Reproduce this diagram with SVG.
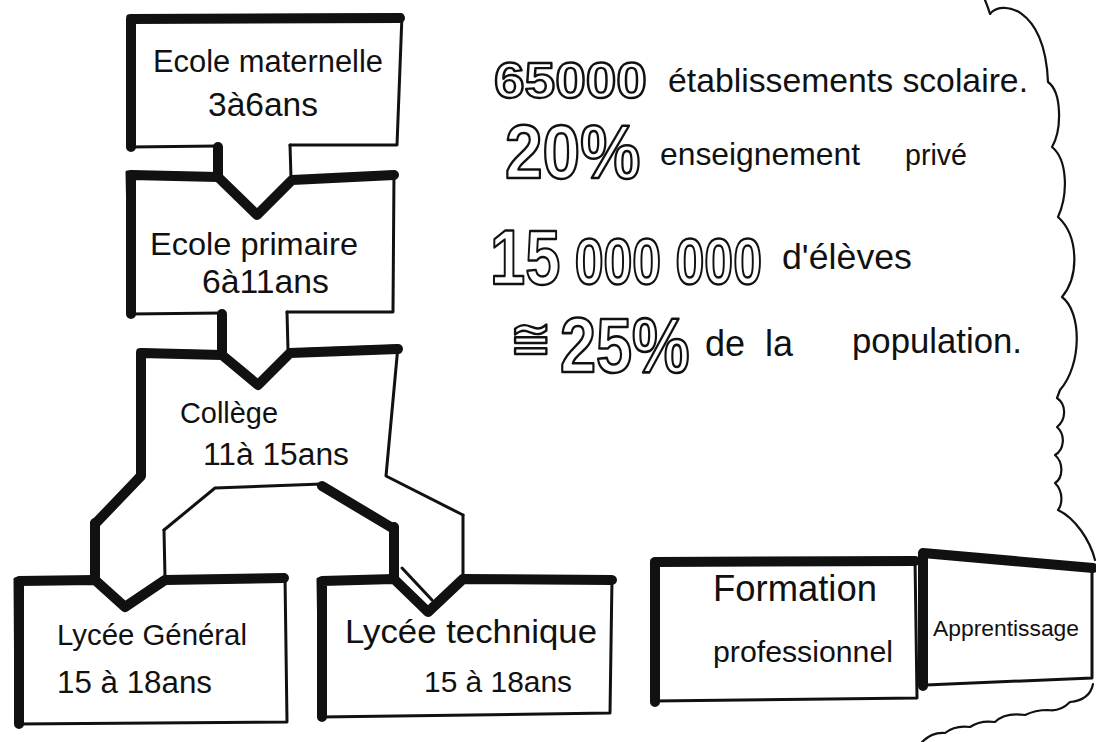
<svg xmlns="http://www.w3.org/2000/svg" width="1096" height="742" viewBox="0 0 1096 742">
<style>
.thin{fill:none;stroke:#111;stroke-width:3;stroke-linejoin:round;stroke-linecap:round}
.thick{fill:none;stroke:#111;stroke-width:10;stroke-linejoin:round;stroke-linecap:round}
.cloud{fill:none;stroke:#111;stroke-width:2.2;stroke-linejoin:round;stroke-linecap:round}
.hand{font-family:"Liberation Sans","DejaVu Sans",sans-serif;fill:#111}
.big{font-family:"Liberation Sans","DejaVu Sans",sans-serif;font-weight:bold;fill:#fff;stroke:#111;stroke-width:2.4;stroke-linejoin:round;vector-effect:non-scaling-stroke}
</style>
<rect width="1096" height="742" fill="#fff"/>

<g id="cloud">
<path class="cloud" d="M985,0 Q988,7 990,14 C1000,0 1045,5 1048,82 C1062,92 1062,130 1052,147 C1068,160 1068,195 1058,217 C1078,235 1080,275 1062,297 C1082,312 1082,365 1060,390 L1057,398 C1067,405 1066,420 1057,427 C1066,435 1064,450 1055,455 C1064,463 1063,478 1055,483 C1064,492 1062,505 1058,510 C1075,518 1090,540 1095,560"/>
<path class="cloud" d="M1093,684 Q1090,700 1070,702 Q1060,712 1048,710 Q1035,710 1025,715 Q1005,712 995,722 Q980,720 970,727 Q955,725 945,733 Q932,732 922,742"/>
</g>

<g id="connectors">
<path class="thick" d="M218,147 L218,176"/>
<path class="thin" d="M290,145 L291,178"/>
<path class="thick" d="M222,314 L222,352"/>
<path class="thin" d="M287,312 L288,350"/>
<path class="thick" d="M95,523 L95,579"/>
<path class="thin" d="M164,530 L165,578"/>
<path class="thick" d="M394,527 L394,578"/>
<path class="thin" d="M463,515 L463,577"/>
<path class="thin" d="M402,568 L432,600"/>
</g>

<g id="ecole-maternelle">
<path class="thin" d="M218,146 L130,147 L128,16 L402,15 L397,145 L290,145"/>
<path class="thick" d="M131,147 L131,19 L400,18"/>
<text class="hand" x="153" y="72" font-size="31" textLength="230" lengthAdjust="spacingAndGlyphs">Ecole maternelle</text>
<text class="hand" x="208" y="116" font-size="33" textLength="110" lengthAdjust="spacingAndGlyphs">3à6ans</text>
</g>

<g id="ecole-primaire">
<path class="thin" d="M222,313 L130,314 L127,172 L218,175 L257,216 L292,178 L394,172 L393,312 L287,312"/>
<path class="thick" d="M131,314 L131,175 L218,177 L257,215 L292,180 L394,175"/>
<text class="hand" x="150" y="255" font-size="32" textLength="208" lengthAdjust="spacingAndGlyphs">Ecole primaire</text>
<text class="hand" x="202" y="293" font-size="33" textLength="127" lengthAdjust="spacingAndGlyphs">6à11ans</text>
</g>

<g id="college">
<path class="thin" d="M95,523 L138,474 L138,350 L222,352 L258,383 L290,350 L398,346 L386,476 L463,515"/>
<path class="thin" d="M164,530 L215,488 L322,484 L394,527"/>
<path class="thick" d="M95,524 L141,476 L141,353 L222,355 L258,385 L290,353 L398,349"/>
<path class="thick" d="M322,486 L394,529"/>
<text class="hand" x="180" y="423" font-size="29" textLength="98" lengthAdjust="spacingAndGlyphs">Collège</text>
<text class="hand" x="203" y="465" font-size="31" textLength="146" lengthAdjust="spacingAndGlyphs">11à 15ans</text>
</g>

<g id="lycee-general">
<path class="thin" d="M165,578 L125,605 L95,578 L15,579 L16,724 L287,722 L285,576 Z"/>
<path class="thick" d="M19,724 L19,581 L95,580 L125,607 L165,580 L284,578"/>
<text class="hand" x="57" y="645" font-size="29" textLength="190" lengthAdjust="spacingAndGlyphs">Lycée Général</text>
<text class="hand" x="57" y="693" font-size="31" textLength="155" lengthAdjust="spacingAndGlyphs">15 à 18ans</text>
</g>

<g id="lycee-technique">
<path class="thin" d="M463,577 L428,610 L394,577 L318,579 L320,717 L610,713 L612,578 Z"/>
<path class="thick" d="M322,717 L322,581 L394,579 L428,612 L463,579 L612,580"/>
<text class="hand" x="345" y="643" font-size="34" textLength="252" lengthAdjust="spacingAndGlyphs">Lycée technique</text>
<text class="hand" x="424" y="692" font-size="30" textLength="148" lengthAdjust="spacingAndGlyphs">15 à 18ans</text>
</g>

<g id="formation-professionnel">
<path class="thin" d="M652,560 L915,558 L917,698 L654,701 Z"/>
<path class="thick" d="M655,702 L655,562 L915,561"/>
<text class="hand" x="713" y="601" font-size="36" textLength="164" lengthAdjust="spacingAndGlyphs">Formation</text>
<text class="hand" x="713" y="662" font-size="30" textLength="180" lengthAdjust="spacingAndGlyphs">professionnel</text>
</g>

<g id="apprentissage">
<path class="thin" d="M922,552 L1092,566 L1092,678 L926,685 Z"/>
<path class="thick" d="M923,686 L923,553 L1093,568"/>
<text class="hand" x="933" y="636" font-size="22" textLength="146" lengthAdjust="spacingAndGlyphs">Apprentissage</text>
</g>

<g id="stats">
<text class="big" transform="translate(494,98) scale(1.1,1)" font-size="50">65000</text>
<text class="hand" x="668" y="92" font-size="33" textLength="360" lengthAdjust="spacingAndGlyphs">établissements scolaire.</text>
<text class="big" transform="translate(505,178) scale(0.89,1)" font-size="76">20%</text>
<text class="hand" x="660" y="165" font-size="32"><tspan textLength="200" lengthAdjust="spacingAndGlyphs">enseignement</tspan><tspan x="905" font-size="29" textLength="62" lengthAdjust="spacingAndGlyphs">privé</tspan></text>
<text class="big" transform="translate(490,284) scale(0.81,1)"><tspan font-size="78">15</tspan><tspan font-size="64"> 000 000</tspan></text>
<text class="hand" x="782" y="269" font-size="35" textLength="130" lengthAdjust="spacingAndGlyphs">d'élèves</text>
<text class="big" x="510" y="356" font-size="50">≅</text>
<text class="big" transform="translate(560,372) scale(0.83,1)" font-size="78">25%</text>
<text class="hand" x="705" y="356" font-size="36" word-spacing="10">de la</text>
<text class="hand" x="852" y="353" font-size="35" textLength="170" lengthAdjust="spacingAndGlyphs">population.</text>
</g>
</svg>
